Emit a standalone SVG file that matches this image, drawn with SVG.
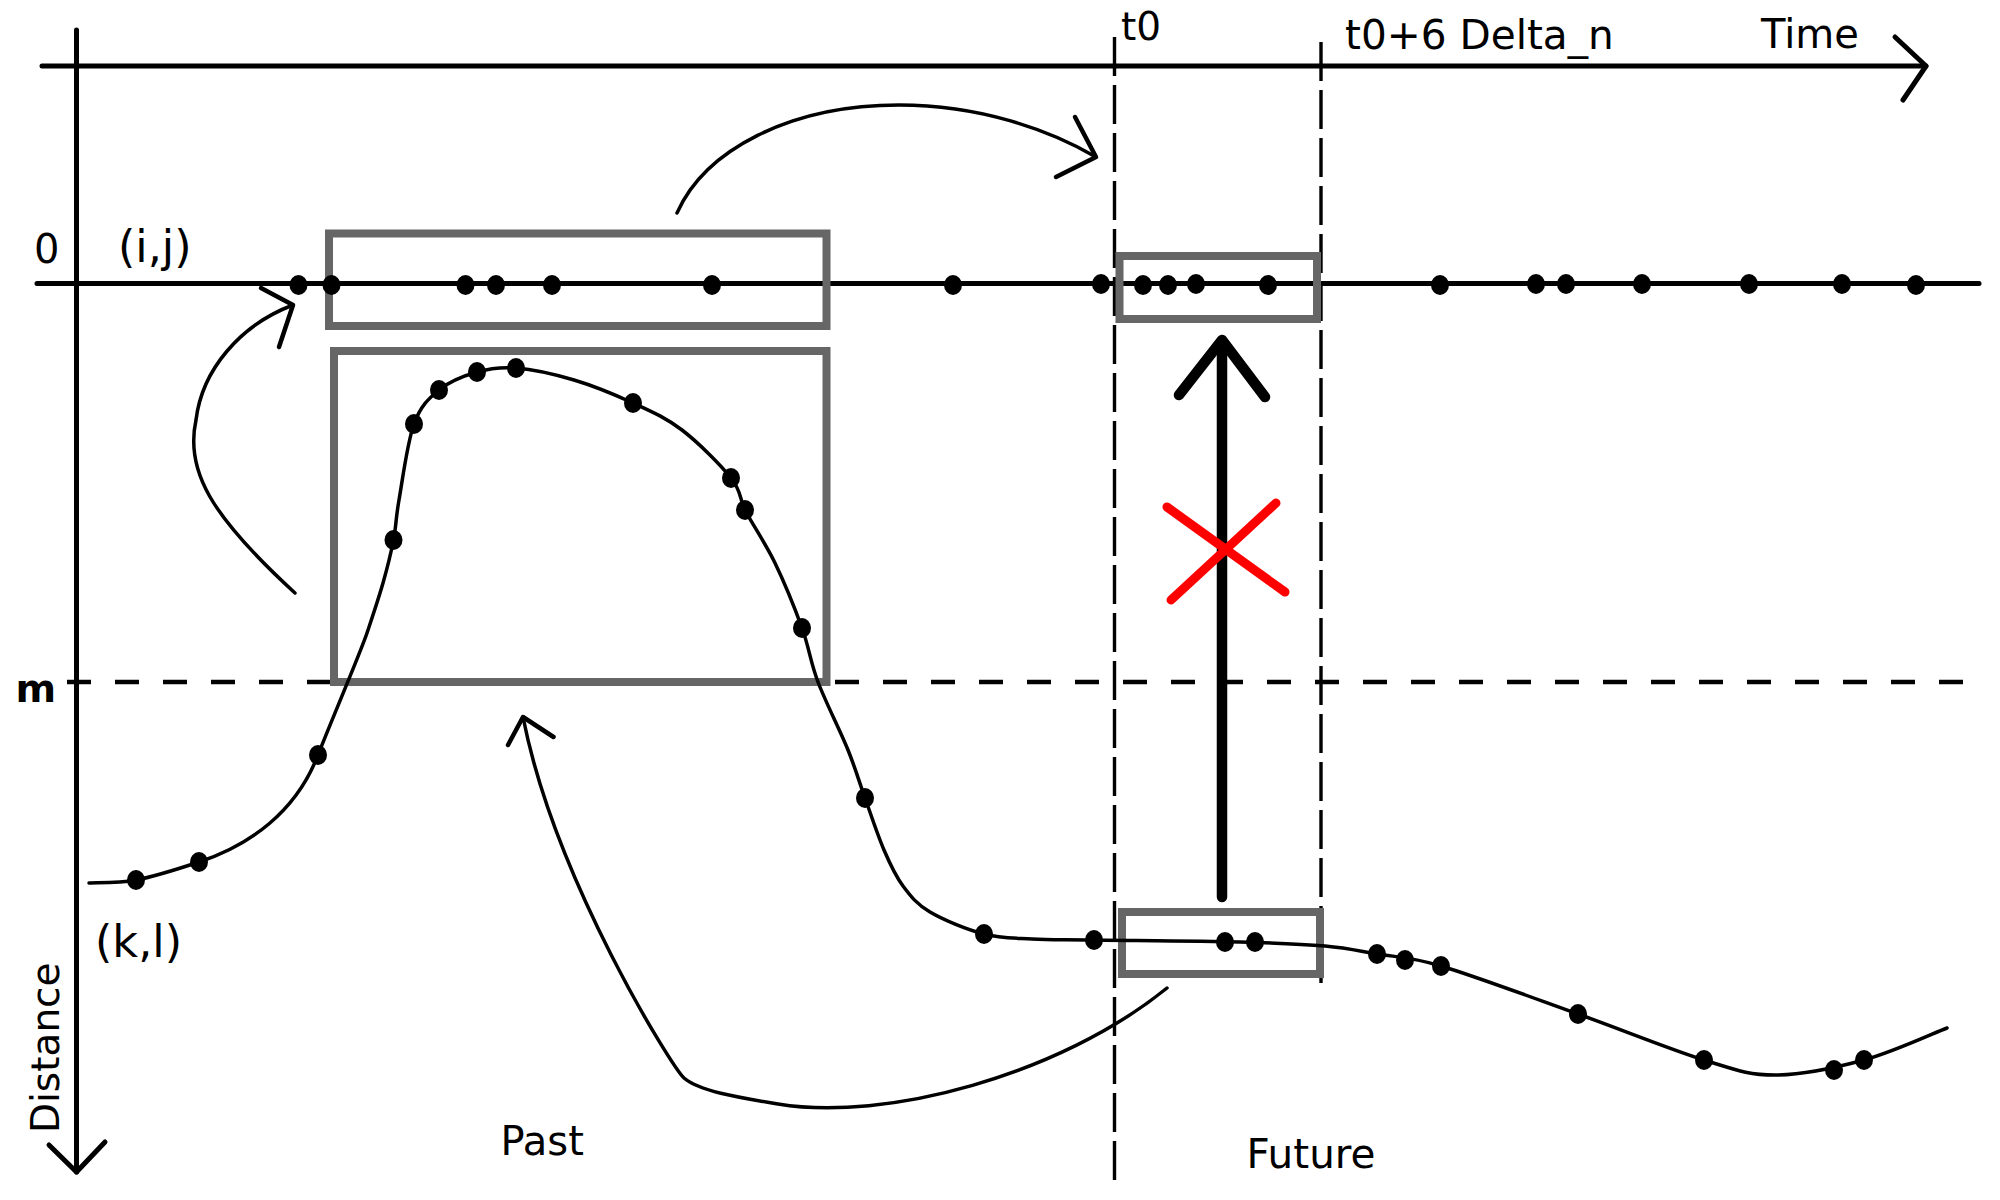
<svg xmlns="http://www.w3.org/2000/svg" width="2000" height="1200" viewBox="0 0 2000 1200">
<style>
.ax{stroke:#000;stroke-width:5;fill:none;stroke-linecap:round;stroke-linejoin:round}
.dv{stroke:#000;stroke-width:3.4;fill:none;stroke-dasharray:39 9}
.dm{stroke:#000;stroke-width:4.5;fill:none;stroke-dasharray:24 24}
.box{stroke:#666;stroke-width:8;fill:none}
.crv{stroke:#000;stroke-width:3.5;fill:none;stroke-linecap:round;stroke-linejoin:round}
.ah{stroke:#000;stroke-width:4.5;fill:none;stroke-linecap:round;stroke-linejoin:round}
.big{stroke:#000;stroke-width:10.5;fill:none;stroke-linecap:round;stroke-linejoin:round}
.x{stroke:#f00;stroke-width:9;stroke-linecap:round}
.dot{fill:#000}
text{font-family:"DejaVu Sans","Liberation Sans",sans-serif;fill:#000}
</style>
<defs>
<ellipse id="d" rx="9" ry="10"/>
</defs>
<g id="axes">
<line class="ax" x1="42" y1="66" x2="1926" y2="66"/>
<polyline class="ax" points="1895,37 1926,66 1903,100"/>
<line class="ax" x1="76.5" y1="30" x2="76.5" y2="1172"/>
<polyline class="ax" points="49,1145 76.5,1172 105,1142"/>
<line class="ax" x1="37" y1="283.5" x2="1979" y2="283.5"/>
</g>
<g id="guides">
<line class="dv" x1="1114.5" y1="37" x2="1114.5" y2="1180"/>
<line class="dv" x1="1321" y1="42" x2="1321" y2="983"/>
<line class="dm" x1="67" y1="682" x2="1963" y2="682"/>
</g>
<g id="box-past-zero"><rect class="box" x="329" y="233.5" width="497.5" height="92.5"/></g>
<g id="box-past-curve"><rect class="box" x="334" y="351" width="492.5" height="331"/></g>
<g id="box-future-zero"><rect class="box" x="1119.5" y="256" width="197.5" height="63"/></g>
<g id="box-future-curve"><rect class="box" x="1122" y="912" width="198" height="62"/></g>
<g id="curve-kl">
<path class="crv" d="M89,883 C96.8,882.5 117.7,883.5 136,880 C154.3,876.5 166,873 199,862 C250,845 296,812 318,755 C329,726.5 360.5,652.5 367,633 C373.5,613.5 378.6,598.5 383,583 C387.4,567.5 390.8,553.8 393.5,540 C396.2,526.2 395.6,519.3 399,500 C402.4,480.7 407.3,442.3 414,424 C420.7,405.7 428.5,398.7 439,390 C449.5,381.3 464.2,375.7 477,372 C489.8,368.3 499.8,366.7 516,368 C532.2,369.3 554.5,374.2 574,380 C593.5,385.8 615,394.7 633,403 C651,411.3 665.7,417.5 682,430 C698.3,442.5 720.5,464.7 731,478 C741.5,491.3 739,497 745,510 C752.3,524.2 765.5,543.3 775,563 C784.5,582.7 794.8,608.2 802,628 C809.2,647.8 810.3,661.7 818,682 C825.7,702.3 840.2,730.7 848,750 C855.8,769.3 859,781.3 865,798 C871,814.7 877.7,835.3 884,850 C890.3,864.7 895.3,875.7 903,886 C910.7,896.3 916.5,904 930,912 C943.5,920 967,929.5 984,934 C1001,938.5 1013.7,938 1032,939 C1050.3,940 1059.3,939.5 1094,940 C1128.7,940.5 1201.5,941 1240,942 C1278.5,943 1302.2,944 1325,946 C1347.8,948 1357.7,950.7 1377,954 C1396.3,957.3 1407.5,956 1441,966 C1474.5,976 1534.2,998.3 1578,1014 C1621.8,1029.7 1671.2,1049.8 1704,1060 C1736.8,1070.2 1748.3,1075 1775,1075 C1801.7,1075 1835.3,1067.8 1864,1060 C1892.7,1052.2 1933.2,1033.3 1947,1028"/>
</g>
<g id="dots-curve" class="dot">
<use href="#d" x="136" y="880"/><use href="#d" x="199" y="862"/><use href="#d" x="318" y="755"/><use href="#d" x="393.5" y="540"/><use href="#d" x="414" y="424"/><use href="#d" x="439" y="390"/><use href="#d" x="477" y="372"/><use href="#d" x="516" y="368"/><use href="#d" x="633" y="403"/><use href="#d" x="731" y="478"/><use href="#d" x="745" y="510"/><use href="#d" x="802" y="628"/><use href="#d" x="865" y="798"/><use href="#d" x="984" y="934"/><use href="#d" x="1094" y="940"/><use href="#d" x="1225" y="942"/><use href="#d" x="1255" y="942"/><use href="#d" x="1377" y="954"/><use href="#d" x="1405" y="960"/><use href="#d" x="1441" y="966"/><use href="#d" x="1578" y="1014"/><use href="#d" x="1704" y="1060"/><use href="#d" x="1834" y="1070"/><use href="#d" x="1864" y="1060"/>
</g>
<g id="dots-zero" class="dot">
<use href="#d" x="298.5" y="285"/><use href="#d" x="331.5" y="285"/><use href="#d" x="465.5" y="285"/><use href="#d" x="496" y="285"/><use href="#d" x="552" y="285"/><use href="#d" x="712" y="285"/><use href="#d" x="953" y="285"/><use href="#d" x="1101" y="284"/><use href="#d" x="1143" y="285"/><use href="#d" x="1168" y="285"/><use href="#d" x="1196" y="284"/><use href="#d" x="1268" y="285"/><use href="#d" x="1440" y="285"/><use href="#d" x="1536" y="284"/><use href="#d" x="1566" y="284"/><use href="#d" x="1642" y="284"/><use href="#d" x="1749" y="284"/><use href="#d" x="1842" y="284"/><use href="#d" x="1916" y="285"/>
</g>
<g id="connectors">
<path class="crv" d="M677,213 C705,150 790,105 899,105 C980,105 1050,130 1096,157"/>
<polyline class="ah" points="1075,117 1096,157 1056,177"/>
<path class="crv" d="M295,593 C210,515 185,470 196,420 C202,370 240,325 293,305"/>
<polyline class="ah" points="261,288 293,305 279,347"/>
<path class="crv" d="M1167,988 C1060,1075 885,1122 778,1104 C745,1098.5 700,1092 684,1078 C672,1067 555,880 523,717"/>
<polyline class="ah" points="508,745 523,717 553.5,737"/>
<line class="big" x1="1222" y1="897" x2="1222" y2="342"/>
<polyline class="big" points="1179,395 1222,340 1265,397"/>
</g>
<g id="cross">
<line class="x" x1="1167" y1="507" x2="1285" y2="592"/>
<line class="x" x1="1276" y1="503" x2="1171" y2="600"/>
</g>
<g id="labels">
<text x="34" y="263" font-size="40">0</text>
<text x="118" y="262" font-size="44.5">(i,j)</text>
<text x="1121" y="39.5" font-size="39">t0</text>
<text x="1345" y="49" font-size="40.6">t0+6 Delta_n</text>
<text x="1761" y="48.3" font-size="40">Time</text>
<text x="15.5" y="702" font-size="39" font-weight="bold">m</text>
<text x="95" y="957" font-size="44.5">(k,l)</text>
<text transform="translate(58.5,1133) rotate(-90)" font-size="39">Distance</text>
<text x="500.5" y="1155" font-size="40">Past</text>
<text x="1246.5" y="1168" font-size="40.5">Future</text>
</g>
</svg>
